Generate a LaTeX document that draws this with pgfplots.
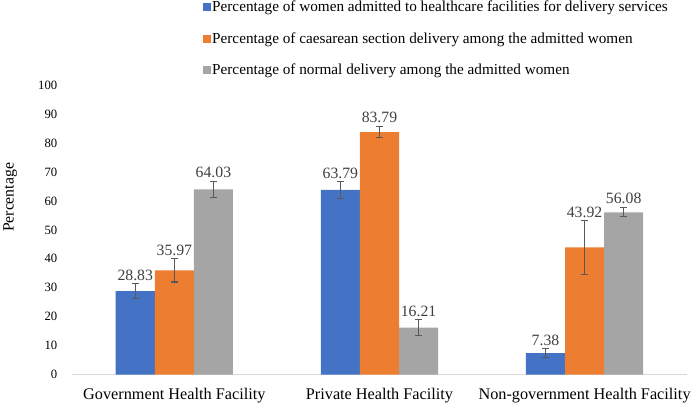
\documentclass[border=0pt]{standalone}
\usepackage{fontspec}
\setmainfont{Liberation Serif}
\usepackage{pgfplots}
\usepackage{pgfplotstable}
\pgfplotsset{compat=1.18}
\definecolor{cblue}{HTML}{4472C4}
\definecolor{corange}{HTML}{ED7D31}
\definecolor{cgrey}{HTML}{A5A5A5}
\definecolor{errc}{HTML}{595959}
\definecolor{labc}{HTML}{404040}
\pgfplotstableread{
x val err
0 28.83 2.5
1 63.79 2.8
2 7.38 1.5
}\tblue
\pgfplotstableread{
x val err
0 35.97 4.0
1 83.79 2.0
2 43.92 9.2
}\torange
\pgfplotstableread{
x val err
0 64.03 2.7
1 16.21 2.7
2 56.08 1.6
}\tgrey
\begin{document}
\begin{tikzpicture}
\begin{axis}[
  scale only axis,
  width=606pt, height=285pt,
  xmin=-0.5, xmax=2.5, ymin=0, ymax=100,
  ybar=0pt, bar width=38.5pt,
  xtick={0,1,2},
  xticklabels={Government Health Facility, Private Health Facility, Non-government Health Facility},
  xticklabel style={font=\fontsize{16}{19}\selectfont, text=black, yshift=-8pt},
  ytick={0,10,...,100},
  yticklabel style={font=\fontsize{12.5}{15}\selectfont, text=black, anchor=east, inner sep=0pt, xshift=-12pt},
  /pgf/number format/assume math mode=true,
  axis x line=bottom, axis y line=left,
  axis line style={-},
  x axis line style={draw=black!15, line width=0.8pt},
  y axis line style={draw=none},
  major tick style={draw=none},
  ylabel={Percentage},
  every axis y label/.style={at={(rel axis cs:-0.1,0.612)}, rotate=90, anchor=center, font=\fontsize{15.5}{18}\selectfont},
  clip=false,
  nodes near coords,
  point meta=explicit,
  visualization depends on={\thisrow{err} \as \myerr},
  nodes near coords style={font=\fontsize{15.5}{18}\selectfont, text=labc, anchor=south,
    /pgf/number format/fixed, /pgf/number format/fixed zerofill, /pgf/number format/precision=2,
    /tikz/shift={(axis direction cs:0,\myerr)}},
  error bars/y dir=both, error bars/y explicit,
  error bars/error bar style={errc, line width=1.1pt},
  error bars/error mark options={errc, line width=1.1pt, mark size=3.5pt, rotate=90},
  legend style={draw=none, fill=none, at={(rel axis cs:0.213,1.295)}, anchor=north west,
    font=\fontsize{15}{18}\selectfont, row sep=17pt, inner sep=0pt, nodes={inner sep=1pt}},
  legend cell align=left,
  legend image code/.code={\fill[#1] (0pt,-4pt) rectangle (8pt,4pt);},
]
\addplot[fill=cblue, draw=none] table[x=x, y=val, y error=err, meta=val] {\tblue};
\addplot[fill=corange, draw=none] table[x=x, y=val, y error=err, meta=val] {\torange};
\addplot[fill=cgrey, draw=none] table[x=x, y=val, y error=err, meta=val] {\tgrey};
\legend{Percentage of women admitted to healthcare facilities for delivery services,
Percentage of caesarean section delivery among the admitted women,
Percentage of normal delivery among the admitted women}
\end{axis}
\end{tikzpicture}
\end{document}
